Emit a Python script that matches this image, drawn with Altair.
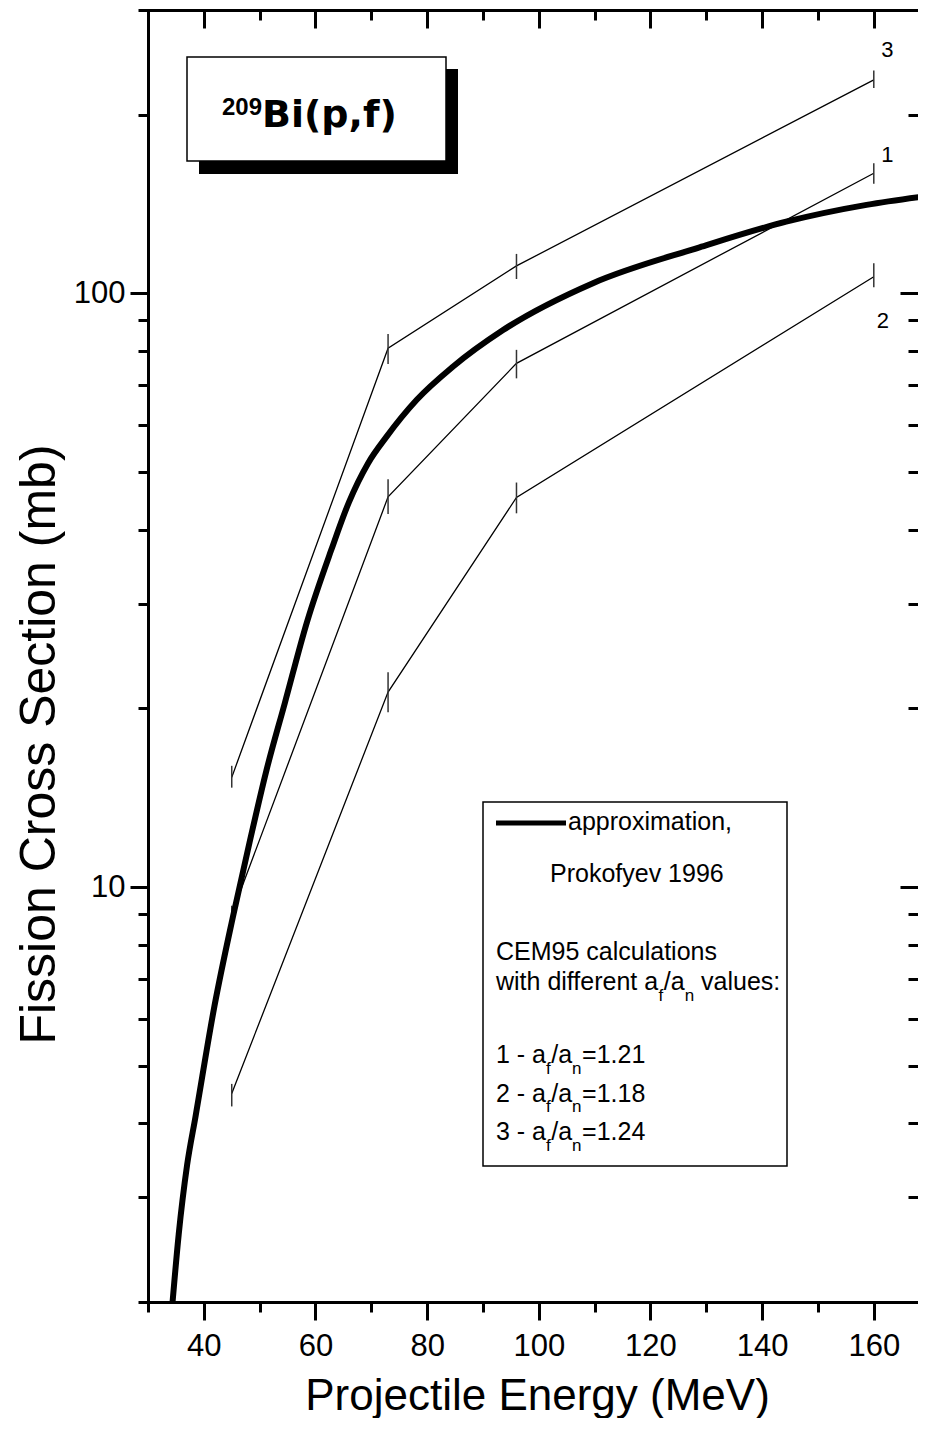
import altair as alt
import pandas as pd

# ---------------- data ----------------
approx_E = [34.4, 35.5, 37.0, 38.5, 41.9, 45.2, 48.2, 51.2, 54.5, 58.5, 62.8,
            66.0, 69.4, 72.7, 78.1, 84.6, 93.6, 109.7, 128.8, 144.3, 158.7, 170.0]
approx_V = [2.0, 2.6, 3.4, 4.1, 6.3, 8.9, 11.9, 15.7, 20.4, 28.0, 36.9,
            44.5, 51.7, 57.3, 66.1, 75.2, 86.7, 104.0, 119.5, 132.0, 140.9, 146.0]

calc_E = [45, 73, 96, 160]
calc_1 = [9.0, 45.4, 76.2, 159.3]
calc_1_lo = [8.7, 42.5, 71.9, 152.9]
calc_1_hi = [9.3, 48.6, 80.3, 165.6]
calc_2 = [4.49, 21.3, 45.3, 106.6]
calc_2_lo = [4.27, 19.7, 42.6, 102.4]
calc_2_hi = [4.66, 23.0, 48.0, 112.3]
calc_3 = [15.3, 80.8, 111.2, 228.8]
calc_3_lo = [14.7, 76.0, 105.7, 221.6]
calc_3_hi = [16.0, 85.4, 116.5, 237.2]
run_names = ["1", "2", "3"]
run_ratios = ["1.21", "1.18", "1.24"]

x_major = [40, 60, 80, 100, 120, 140, 160]
x_minor = [30, 50, 70, 90, 110, 130, 150, 170]
y_major = [10, 100]
y_minor = [2, 3, 4, 5, 6, 7, 8, 9, 20, 30, 40, 50, 60, 70, 80, 90, 200, 300]

title_sup = "209"
title_main = "Bi(p,f)"
x_title = "Projectile Energy (MeV)"
y_title = "Fission Cross Section (mb)"

# ---------------- layout (styling only) ----------------
FONT = "Liberation Sans"
PAD_L, PAD_T, PAD_B = 140, 2, 116
OX, OY = 8 + PAD_L, 8 + PAD_T
W, H = 770, 1292
PX_PER_MEV = 5.583
X_MIN = 30
X_MAX = X_MIN + W / PX_PER_MEV


def px(ix):
    return ix - OX


def py(iy):
    return iy - OY


ARIAL = {' ': 278, '-': 333, '/': 278, '=': 584, '.': 278, ':': 278, 'a': 556,
         'w': 722, 'i': 222, 't': 278, 'h': 556, 'd': 556, 'f': 278, 'e': 556,
         'r': 333, 'n': 556, 'v': 500, 'l': 222, 'u': 556, 's': 500}


def tw(s, size):
    return sum(ARIAL.get(c, 556) for c in s) * size / 1000.0


xs = alt.Scale(domain=[X_MIN, X_MAX], nice=False, zero=False)
ys = alt.Scale(type="log", domain=[2, 300], nice=False)

dummy = pd.DataFrame({"k": [0]})

rows = []
for r, vals, los, his in zip(run_names, [calc_1, calc_2, calc_3],
                             [calc_1_lo, calc_2_lo, calc_3_lo],
                             [calc_1_hi, calc_2_hi, calc_3_hi]):
    for e, v, lo, hi in zip(calc_E, vals, los, his):
        rows.append({"E": e, "V": v, "lo": lo, "hi": hi, "run": r})
calc_df = pd.DataFrame(rows)
approx_df = pd.DataFrame({"E": approx_E, "V": approx_V})

x_minor_vis = [v for v in x_minor if v <= X_MAX]


def axis(orient, values, size, offset=0, domain=False, **kw):
    extra = {}
    if domain:
        extra = dict(domainWidth=3, domainColor="black", domainCap="square")
    return alt.Axis(orient=orient, values=values, tickSize=size, tickWidth=3,
                    tickColor="black", domain=domain, grid=False, offset=offset,
                    **extra, **kw)


ax_bottom_major = axis("bottom", x_major, 18, domain=True, labels=True, format="d",
                       labelFontSize=31, labelColor="black", labelFont=FONT,
                       labelPadding=35, labelBaseline="alphabetic",
                       labelFlush=False, labelOverlap=False,
                       title=x_title, titleFont=FONT, titleFontSize=44,
                       titleFontWeight="normal", titleColor="black",
                       titleX=px(537), titleY=1409 - (OY + H),
                       titleAlign="center", titleBaseline="alphabetic")
ax_left_major = axis("left", y_major, 18, domain=True, labels=True, format="d",
                     labelFontSize=31, labelColor="black", labelFont=FONT,
                     labelPadding=5, labelFlush=False, labelOverlap=False,
                     title=y_title, titleFont=FONT, titleFontSize=50,
                     titleFontWeight="normal", titleColor="black",
                     titleX=px(54), titleY=py(744), titleAngle=270,
                     titleAlign="center", titleBaseline="alphabetic")
ax_bottom_minor = axis("bottom", x_minor_vis, 10, labels=False, title=None)
ax_left_minor = axis("left", y_minor, 10, labels=False, title=None)
ax_top_major = axis("top", x_major, 18, offset=-18, labels=False, title=None)
ax_right_major = axis("right", y_major, 18, offset=-18, labels=False, title=None)
ax_top_minor = axis("top", x_minor_vis, 10, offset=-10, labels=False, title=None)
ax_right_minor = axis("right", y_minor, 10, offset=-10, labels=False, title=None)
ax_top_spine = alt.Axis(orient="top", ticks=False, labels=False, grid=False,
                        domain=True, domainWidth=3, domainColor="black",
                        domainCap="square", title=None)


def txt(s, ix, iy, size, weight="normal", align="left", font=FONT):
    return alt.Chart(dummy).mark_text(
        text=s, fontSize=size, fontWeight=weight, align=align,
        baseline="alphabetic", color="black", font=font
    ).encode(x=alt.value(px(ix)), y=alt.value(py(iy)))


def box(x1, y1, x2, y2, fill, stroke=None, sw=0):
    kw = {"fill": fill}
    if stroke:
        kw.update(stroke=stroke, strokeWidth=sw)
    return alt.Chart(dummy).mark_rect(**kw).encode(
        x=alt.value(px(x1)), x2=alt.value(px(x2)),
        y=alt.value(py(y1)), y2=alt.value(py(y2)))


layers = []

# title box with shadow
layers.append(box(199, 69, 458, 174, "black"))
layers.append(box(187, 57, 446, 161, "white", "black", 1.5))
layers.append(txt(title_sup, 222, 115, 24, "bold"))
layers.append(txt(title_main, 262, 127, 38, "bold", font="DejaVu Sans"))

# legend box
layers.append(box(483, 802, 787, 1166, "white", "black", 1.5))
layers.append(alt.Chart(dummy).mark_rule(color="black", strokeWidth=5).encode(
    x=alt.value(px(496)), x2=alt.value(px(566)), y=alt.value(py(823))))
FS, SUB = 25, 17
layers.append(txt("approximation,", 568, 830, FS))
layers.append(txt("Prokofyev 1996", 550, 882, FS))
layers.append(txt("CEM95 calculations", 496, 960, FS))


def ratio_line(pre, post, x0, yb, post_space):
    out = []
    out.append(txt(pre, x0, yb, FS))
    xf = x0 + tw(pre, FS)
    out.append(txt("f", xf, yb + 10.5, SUB))
    xs2 = xf + tw("f", SUB) + 0.5
    out.append(txt("/a", xs2, yb, FS))
    xn = xs2 + tw("/a", FS)
    out.append(txt("n", xn, yb + 10.5, SUB))
    xp = xn + tw("n", SUB) + (tw(" ", FS) if post_space else 0.5)
    out.append(txt(post, xp, yb, FS))
    return out


layers += ratio_line("with different a", "values:", 496, 990, True)
for i, (r, ratio) in enumerate(zip(run_names, run_ratios)):
    layers += ratio_line(f"{r} - a", "=" + ratio, 496, 1063 + 38.5 * i, False)

# calculated curves (thin)
layers.append(alt.Chart(calc_df).mark_line(color="black", strokeWidth=1.3, clip=True).encode(
    x=alt.X("E:Q", scale=xs, axis=ax_bottom_minor),
    y=alt.Y("V:Q", scale=ys, axis=ax_left_minor),
    detail="run:N"))
# error bars
layers.append(alt.Chart(calc_df).mark_rule(color="#333333", strokeWidth=1.5, clip=True).encode(
    x=alt.X("E:Q", scale=xs, axis=ax_top_major),
    y=alt.Y("lo:Q", scale=ys, axis=ax_right_major),
    y2="hi:Q"))
# approximation (thick)
layers.append(alt.Chart(approx_df).mark_line(color="black", strokeWidth=6,
                                             interpolate="monotone", clip=True).encode(
    x=alt.X("E:Q", scale=xs, axis=ax_bottom_major),
    y=alt.Y("V:Q", scale=ys, axis=ax_left_major)))

# curve end labels
label_off = {"1": (13.5, -18), "2": (9, 44), "3": (13.5, -29.5)}
label_axes = [(ax_top_minor, ax_right_minor), (ax_top_spine, None), (None, None)]
for j, (r, vals) in enumerate(zip(run_names, [calc_1, calc_2, calc_3])):
    ldf = pd.DataFrame({"E": [calc_E[-1]], "V": [vals[-1]], "lab": [r]})
    dx, dy = label_off[r]
    axx, axy = label_axes[j]
    layers.append(alt.Chart(ldf).mark_text(fontSize=22, font=FONT, color="black",
                                           align="center", baseline="middle",
                                           dx=dx, dy=dy).encode(
        x=alt.X("E:Q", scale=xs, axis=axx),
        y=alt.Y("V:Q", scale=ys, axis=axy),
        text="lab:N"))

chart = alt.layer(*layers).properties(
    width=W, height=H,
    padding={"left": PAD_L, "top": PAD_T, "right": 0, "bottom": PAD_B},
    autosize=alt.AutoSizeParams(type="none"),
).resolve_axis(x="independent", y="independent").configure_view(
    stroke=None
).configure(font=FONT, background="white")

chart.save("out.html", embed_options={"renderer": "svg", "actions": False})
